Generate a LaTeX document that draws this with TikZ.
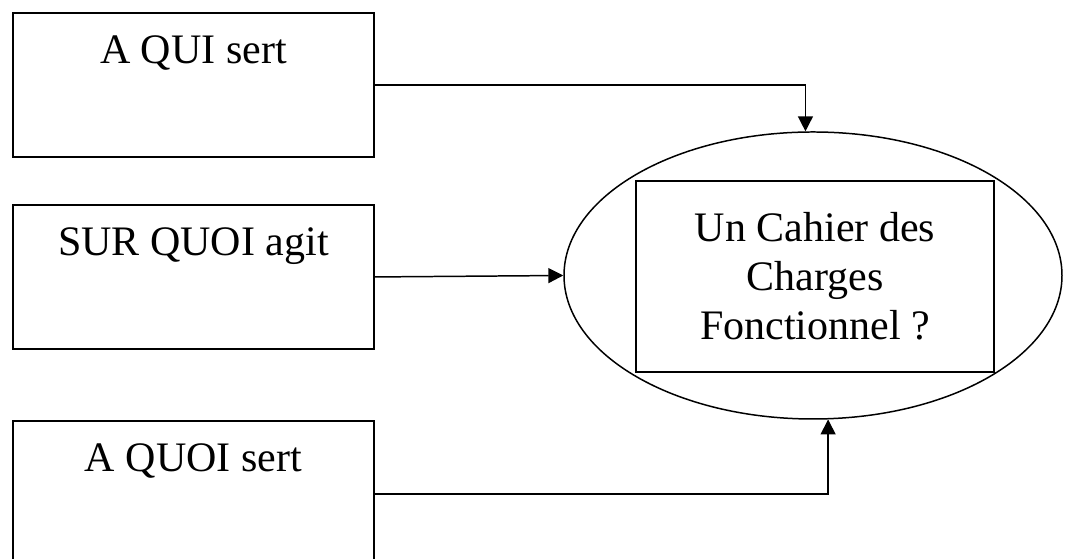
\documentclass[tikz,border=0pt]{standalone}
\usepackage{fontspec}
\setmainfont{Liberation Serif}
\usetikzlibrary{shapes.geometric,arrows.meta}

\begin{document}
\begin{tikzpicture}[
    qbox/.style={draw, line width=1.1pt, inner sep=0pt, minimum width=7.22cm,
                 text height=1.02cm, text depth=1.86cm},
    arr/.style={line width=0.85pt, -{Triangle[length=8.5pt,width=8.5pt]}},
    font=\fontsize{23.9}{27.9}\selectfont]
\useasboundingbox (0,0) rectangle (21.32,11.18);

\node[qbox, anchor=north west] (qui) at (0.24,10.94) {A QUI sert};
        \node[qbox, anchor=north west] (quoi) at (0.24,7.10) {SUR QUOI agit};
        \node[qbox, anchor=north west, text depth=1.9cm] (sert) at (0.24,2.78) {A QUOI sert};

\node[ellipse, draw, line width=0.85pt, inner sep=0pt, minimum width=9.96cm, minimum height=5.74cm] (cdc) at (16.26,5.67) {};
\node[draw, line width=1.1pt, minimum width=7.16cm, minimum height=3.82cm, align=center] (cdf) at (16.30,5.65) {Un Cahier des\\Charges\\Fonctionnel ?};

\draw[arr] (qui.east) -| (cdc.93);
\draw[arr] (quoi.east) -- (cdc.west);
\draw[arr] (sert.east) -| (cdc.276);
\end{tikzpicture}
\end{document}
